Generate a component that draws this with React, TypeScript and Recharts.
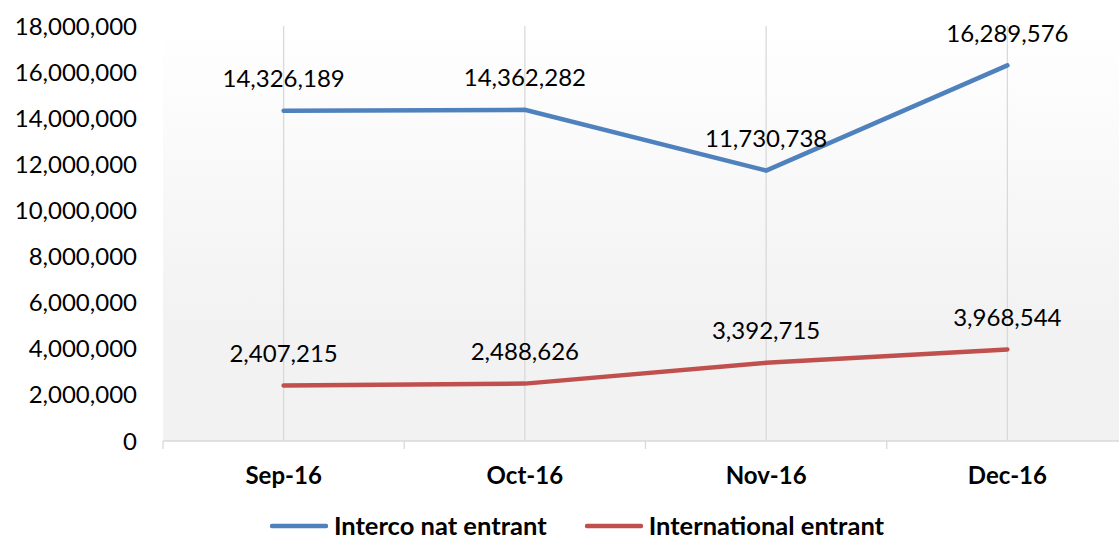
import { LineChart, Line, XAxis, YAxis, CartesianGrid, Legend, LabelList } from 'recharts';

const months = ['Sep-16', 'Oct-16', 'Nov-16', 'Dec-16'];
const intercoNat = [14326189, 14362282, 11730738, 16289576];
const international = [2407215, 2488626, 3392715, 3968544];
const yTicks = [0, 2000000, 4000000, 6000000, 8000000, 10000000, 12000000, 14000000, 16000000, 18000000];

const BLUE = '#4f81bd';
const RED = '#c0504d';
const FONT = 'Lato, "Open Sans", sans-serif';
const X_MARGIN = 26;

const data = months.map((m, i) => ({ idx: i, month: m, interco: intercoNat[i], intl: international[i] }));
// category centres get labels, category edges get the small tick marks
const xTicks = [-0.5, ...months.flatMap((_, i) => [i, i + 0.5])];

const fmt = (v: number) => v.toLocaleString('en-US');

const renderXTick = (props: any) => {
  const { x, y, payload } = props;
  const v = payload.value as number;
  if (!Number.isInteger(v)) {
    const axisY = y - X_MARGIN;
    return <line x1={x} y1={axisY} x2={x} y2={axisY + 8} stroke="#d9d9d9" strokeWidth={1.3} />;
  }
  return (
    <text x={x} y={y} dy="0.71em" textAnchor="middle" fontSize={24} fontWeight={700} fill="#000" fontFamily={FONT}>
      {months[v]}
    </text>
  );
};

const renderLabel = (props: any) => {
  const { x, y, value } = props;
  return (
    <text x={x} y={y - 33} textAnchor="middle" dominantBaseline="central" fontSize={24} fill="#000" fontFamily={FONT}>
      {fmt(value)}
    </text>
  );
};

const legendItems = [
  { name: 'Interco nat entrant', color: BLUE },
  { name: 'International entrant', color: RED },
];

const renderLegend = () => (
  <div
    style={{
      display: 'flex',
      justifyContent: 'center',
      alignItems: 'center',
      gap: 38,
      paddingLeft: 26,
      marginTop: 17,
      fontFamily: FONT,
    }}
  >
    {legendItems.map((it) => (
      <div key={it.name} style={{ display: 'flex', alignItems: 'center' }}>
        <svg width={58} height={8} style={{ marginRight: 6 }}>
          <line x1={2} y1={4} x2={56} y2={4} stroke={it.color} strokeWidth={4.5} strokeLinecap="round" />
        </svg>
        <span style={{ fontSize: 25.5, lineHeight: 1, fontWeight: 700, color: '#000' }}>{it.name}</span>
      </div>
    ))}
  </div>
);

export default function App() {
  return (
    <div style={{ position: 'absolute', left: 0, top: 0, width: 1119, height: 542, overflow: 'hidden', background: '#fff' }}>
      <LineChart width={1140} height={542} data={data} margin={{ top: 26, right: 12, bottom: 0, left: 0 }}>
        <defs>
          <linearGradient id="plotBg" x1="0" y1="0" x2="0" y2="1">
            <stop offset="0%" stopColor="#ffffff" />
            <stop offset="72%" stopColor="#f2f2f2" />
            <stop offset="100%" stopColor="#f2f2f2" />
          </linearGradient>
        </defs>
        <CartesianGrid
          horizontal={false}
          verticalValues={months.map((_, i) => i)}
          stroke="#d9d9d9"
          strokeWidth={1.3}
          fill="url(#plotBg)"
        />
        <XAxis
          type="number"
          dataKey="idx"
          domain={[-0.5, months.length - 0.5]}
          ticks={xTicks}
          interval={0}
          tick={renderXTick}
          axisLine={{ stroke: '#d9d9d9', strokeWidth: 1.3 }}
          tickLine={false}
          tickSize={0}
          tickMargin={X_MARGIN}
          height={55}
        />
        <YAxis
          domain={[0, 18000000]}
          ticks={yTicks}
          tickFormatter={fmt}
          width={163}
          axisLine={false}
          tickLine={false}
          tickSize={0}
          tickMargin={26}
          interval={0}
          tick={{ fontSize: 24, fill: '#000', fontFamily: FONT }}
        />
        <Legend verticalAlign="bottom" height={46} content={renderLegend} />
        <Line
          type="linear"
          dataKey="interco"
          name="Interco nat entrant"
          stroke={BLUE}
          strokeWidth={4.5}
          strokeLinecap="round"
          dot={false}
          isAnimationActive={false}
        >
          <LabelList dataKey="interco" content={renderLabel} />
        </Line>
        <Line
          type="linear"
          dataKey="intl"
          name="International entrant"
          stroke={RED}
          strokeWidth={4.5}
          strokeLinecap="round"
          dot={false}
          isAnimationActive={false}
        >
          <LabelList dataKey="intl" content={renderLabel} />
        </Line>
      </LineChart>
    </div>
  );
}
